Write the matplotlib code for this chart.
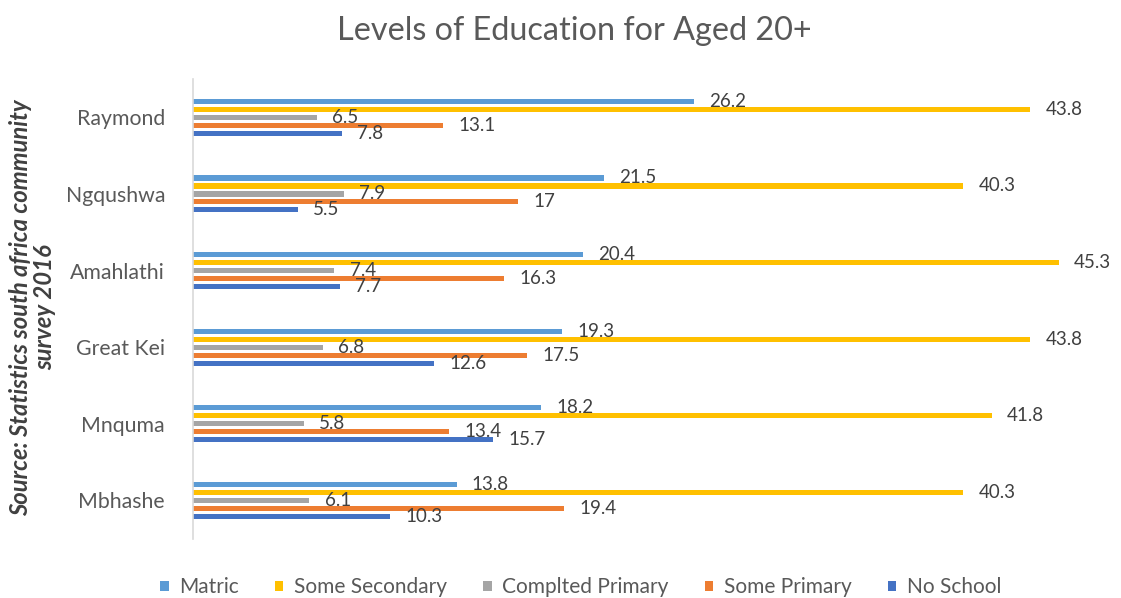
import matplotlib
matplotlib.use('Agg')
import matplotlib.pyplot as plt
import numpy as np

plt.rcParams['font.family'] = ['Lato', 'DejaVu Sans']

regions = ["Raymond", "Ngqushwa", "Amahlathi", "Great Kei", "Mnquma", "Mbhashe"]
series = ["Matric", "Some Secondary", "Complted Primary", "Some Primary", "No School"]
matric = [26.2, 21.5, 20.4, 19.3, 18.2, 13.8]
some_secondary = [43.8, 40.3, 45.3, 43.8, 41.8, 40.3]
completed_primary = [6.5, 7.9, 7.4, 6.8, 5.8, 6.1]
some_primary = [13.1, 17, 16.3, 17.5, 13.4, 19.4]
no_school = [7.8, 5.5, 7.7, 12.6, 15.7, 10.3]

values = [matric, some_secondary, completed_primary, some_primary, no_school]
colors = ["#5B9BD5", "#FFC000", "#A5A5A5", "#ED7D31", "#4472C4"]

fig = plt.figure(figsize=(11.21, 5.98), dpi=100)
ax = fig.add_axes([0.172, 0.099, 0.809, 0.769])

y = np.arange(len(regions))
step = 0.104
h = 0.068
for i, (vals, col, name) in enumerate(zip(values, colors, series)):
    pos = y + (i - 2) * step
    ax.barh(pos, vals, height=h, color=col, label=name)
    for p, v in zip(pos, vals):
        ax.text(v + 0.8, p, f"{v:g}", va='center', ha='left',
                fontsize=13.5, color="#404040")

ax.set_ylim(-0.5, len(regions) - 0.5)
ax.invert_yaxis()
ax.set_xlim(0, 47.44)
ax.set_yticks(y)
ax.set_yticklabels(regions, fontsize=15.3, color="#595959")
ax.tick_params(axis='y', length=0, pad=20)
ax.set_xticks([])
for s in ['top', 'right', 'bottom']:
    ax.spines[s].set_visible(False)
ax.spines['left'].set_color("#D9D9D9")
ax.spines['left'].set_linewidth(1.2)

fig.text(0.512, 0.948, "Levels of Education for Aged 20+", ha='center', va='center',
         fontsize=23.3, color="#595959")
fig.text(0.029, 0.486, "Source: Statistics south africa community\nsurvey 2016",
         rotation=90, ha='center', va='center', fontsize=17.2,
         fontweight='bold', style='italic', color="#404040", linespacing=1.1)

leg = fig.legend(loc='center', bbox_to_anchor=(0.518, 0.018), ncol=5, frameon=False,
                 fontsize=15, handlelength=0.4, handleheight=0.4, handletextpad=0.5,
                 columnspacing=1.75)
for t in leg.get_texts():
    t.set_color("#595959")

fig.savefig("out.png", dpi=100, facecolor='white')
